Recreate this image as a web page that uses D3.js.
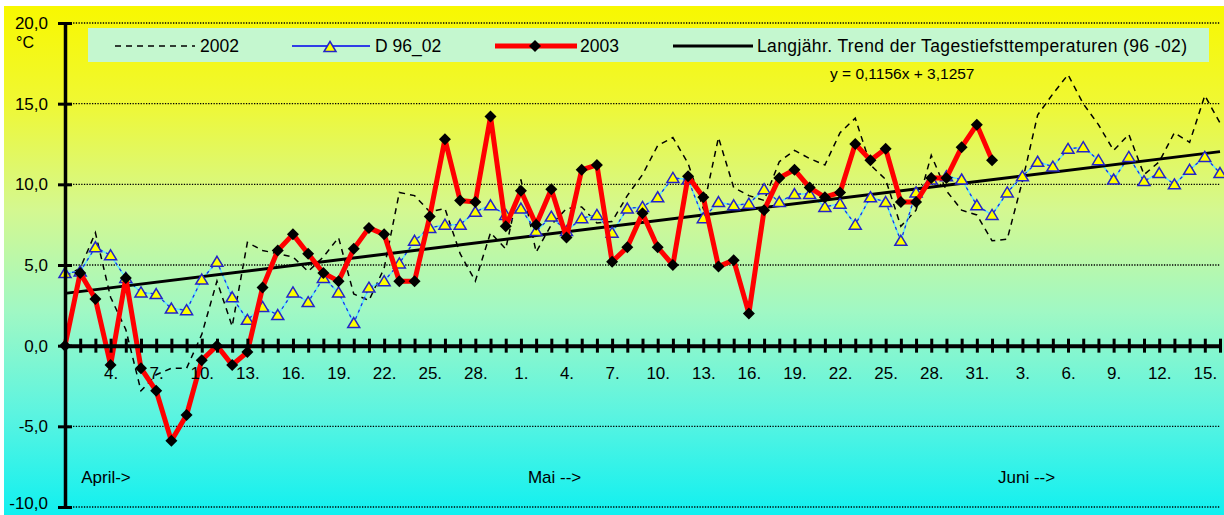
<!DOCTYPE html>
<html><head><meta charset="utf-8">
<script src="https://cdn.jsdelivr.net/npm/d3@7"></script>
<style>
html,body{margin:0;padding:0;background:#fff;}
svg{display:block;font-family:"Liberation Sans",Arial,sans-serif;}
</style></head><body>
<svg id="c" width="1224" height="515"></svg>
<script>
// ---------- data ----------
const categories = [
 "1.4.","2.4.","3.4.","4.4.","5.4.","6.4.","7.4.","8.4.","9.4.","10.4.","11.4.","12.4.","13.4.","14.4.","15.4.",
 "16.4.","17.4.","18.4.","19.4.","20.4.","21.4.","22.4.","23.4.","24.4.","25.4.","26.4.","27.4.","28.4.","29.4.","30.4.",
 "1.5.","2.5.","3.5.","4.5.","5.5.","6.5.","7.5.","8.5.","9.5.","10.5.","11.5.","12.5.","13.5.","14.5.","15.5.","16.5.",
 "17.5.","18.5.","19.5.","20.5.","21.5.","22.5.","23.5.","24.5.","25.5.","26.5.","27.5.","28.5.","29.5.","30.5.","31.5.",
 "1.6.","2.6.","3.6.","4.6.","5.6.","6.6.","7.6.","8.6.","9.6.","10.6.","11.6.","12.6.","13.6.","14.6.","15.6.","16.6."
];
const series2002 = [
 4.3, 4.8, 7.0, 3.0, 1.0, -2.8, -1.8, -1.4, -1.4, 0.7,
 4.0, 1.2, 6.4, 5.9, 5.7, 5.5, 4.6, 5.5, 6.7, 3.2,
 2.8, 4.8, 9.5, 9.3, 8.3, 8.5, 5.7, 4.0, 7.0, 6.0,
 10.3, 5.8, 7.5, 8.5, 8.6, 7.6, 7.7, 9.3, 10.6, 12.4,
 12.9, 11.3, 8.5, 12.9, 9.8, 9.3, 9.0, 11.4, 12.1, 11.6,
 11.2, 13.2, 14.1, 11.2, 10.3, 7.4, 8.4, 11.8, 9.6, 8.4,
 8.1, 6.5, 6.6, 10.2, 14.3, 15.6, 16.8, 15.0, 13.7, 12.1,
 13.1, 10.6, 11.4, 13.2, 12.6, 15.5, 13.8
];
const seriesD9602 = [
 4.5, 4.6, 6.1, 5.6, 4.2, 3.3, 3.2, 2.3, 2.2, 4.1,
 5.2, 3.0, 1.6, 2.4, 1.9, 3.3, 2.7, 4.2, 3.3, 1.4,
 3.6, 4.0, 5.1, 6.5, 7.3, 7.5, 7.5, 8.3, 8.7, 8.1,
 8.5, 7.1, 8.0, 7.1, 7.9, 8.1, 7.0, 8.5, 8.6, 9.2,
 10.4, 10.3, 7.9, 8.9, 8.7, 8.8, 9.7, 8.9, 9.4, 9.4,
 8.6, 8.8, 7.5, 9.2, 8.9, 6.5, 9.5, 10.3, 10.5, 10.3,
 8.7, 8.1, 9.5, 10.5, 11.4, 11.1, 12.2, 12.3, 11.5, 10.3,
 11.7, 10.2, 10.7, 10.0, 10.9, 11.7, 10.7
];
const series2003 = [
 0.0, 4.5, 2.9, -1.2, 4.2, -1.4, -2.8, -5.9, -4.3, -0.9,
 0.0, -1.2, -0.4, 3.6, 5.9, 6.9, 5.7, 4.5, 4.0, 6.0,
 7.3, 6.9, 4.0, 4.0, 8.0, 12.8, 9.0, 8.9, 14.2, 7.4,
 9.6, 7.5, 9.7, 6.7, 10.9, 11.2, 5.2, 6.1, 8.2, 6.1,
 5.0, 10.5, 9.2, 4.9, 5.3, 2.0, 8.4, 10.4, 10.9, 9.8,
 9.2, 9.5, 12.5, 11.5, 12.2, 8.9, 8.9, 10.4, 10.4, 12.3,
 13.7, 11.5
];
const trendSlope = 0.1156;
const trendIntercept = 3.1257;
const equationText = "y = 0,1156x + 3,1257";
const yTicks = [20, 15, 10, 5, 0, -5, -10];
const yUnit = "°C";
const xTickCategories = [
 "4.4.","7.4.","10.4.","13.4.","16.4.","19.4.","22.4.","25.4.","28.4.",
 "1.5.","4.5.","7.5.","10.5.","13.5.","16.5.","19.5.","22.5.","25.5.","28.5.","31.5.",
 "3.6.","6.6.","9.6.","12.6.","15.6."
];
const monthLabels = ["April->", "Mai -->", "Juni -->"];
const monthCategories = ["2.4.", "1.5.", "1.6."];
const legendNames = ["2002", "D 96_02", "2003", "Langjähr. Trend der Tagestiefsttemperaturen (96 -02)"];

// ---------- layout ----------
const svg = d3.select("#c");
const W = 1224, H = 515;
const x = d3.scalePoint().domain(categories).range([65, 1220]).padding(0);
const y = d3.scaleLinear().domain([-10, 20]).range([507, 23]);

const defs = svg.append("defs");
const grad = defs.append("linearGradient").attr("id","bg").attr("x1",0).attr("y1",0).attr("x2",0).attr("y2",1);
[[0,"#f8f800"],[0.18,"#f0f830"],[0.4,"#d4f890"],[0.6,"#a0f8c4"],[0.8,"#5cf4e0"],[1,"#10f0f0"]]
 .forEach(([o,c]) => grad.append("stop").attr("offset",o).attr("stop-color",c));

svg.append("rect").attr("width",W).attr("height",H).attr("fill","#fff");
svg.append("rect").attr("x",4).attr("y",6).attr("width",W-4).attr("height",H-6).attr("fill","url(#bg)");

// gridlines
svg.append("g").selectAll("line").data(yTicks).join("line")
  .attr("x1", x.range()[0]).attr("x2", x.range()[1])
  .attr("y1", d => y(d)).attr("y2", d => y(d))
  .attr("stroke","#000").attr("stroke-width",1.4).attr("stroke-dasharray","1.3,1.4");

// legend box
const lg = svg.append("g");
lg.append("rect").attr("x",88).attr("y",28).attr("width",1121).attr("height",34).attr("fill","#c4f7cf");
const ly = 46;
// 2002
lg.append("line").attr("x1",115).attr("x2",195).attr("y1",ly).attr("y2",ly)
  .attr("stroke","#000").attr("stroke-width",1.5).attr("stroke-dasharray","6,5");
lg.append("text").attr("x",200).attr("y",ly+6).attr("font-size",17.5).text(legendNames[0]);
// D 96_02
lg.append("line").attr("x1",292).attr("x2",370).attr("y1",ly).attr("y2",ly)
  .attr("stroke","#0000ee").attr("stroke-width",1.5);
const triPath = "M0,-5.5L6,4.5L-6,4.5Z";
lg.append("path").attr("d",triPath).attr("transform",`translate(330,${ly+1})`)
  .attr("fill","#ffff00").attr("stroke","#2424c8").attr("stroke-width",1.5);
lg.append("text").attr("x",375).attr("y",ly+6).attr("font-size",17.5).text(legendNames[1]);
// 2003
lg.append("line").attr("x1",495).attr("x2",577).attr("y1",ly).attr("y2",ly)
  .attr("stroke","#ff0000").attr("stroke-width",5);
const diaPath = "M0,-6L6,0L0,6L-6,0Z";
lg.append("path").attr("d",diaPath).attr("transform",`translate(535,${ly})`).attr("fill","#000");
lg.append("text").attr("x",580).attr("y",ly+6).attr("font-size",17.5).text(legendNames[2]);
// trend
lg.append("line").attr("x1",673).attr("x2",753).attr("y1",ly).attr("y2",ly)
  .attr("stroke","#000").attr("stroke-width",3);
lg.append("text").attr("x",757).attr("y",ly+6).attr("font-size",17.5)
  .attr("textLength",430).attr("lengthAdjust","spacing").text(legendNames[3]);

// equation
svg.append("text").attr("x",830).attr("y",79).attr("font-size",15.5).text(equationText);

// series lines
const line = vals => d3.line().x((v,i) => x(categories[i])).y(v => y(v))(vals);

// 2002 dashed
svg.append("path").attr("d", line(series2002)).attr("fill","none")
  .attr("stroke","#000").attr("stroke-width",1.5).attr("stroke-dasharray","6,5");

// D 96_02
svg.append("path").attr("d", line(seriesD9602)).attr("fill","none")
  .attr("stroke","#5ee6ff").attr("stroke-width",1.5);
svg.append("path").attr("d", line(seriesD9602)).attr("fill","none")
  .attr("stroke","#2030e0").attr("stroke-width",1.3).attr("stroke-dasharray","3,4");

// trend line
const tx = [categories[0], categories[categories.length-1]];
svg.append("path").attr("d", d3.line()([
   [x(tx[0]), y(trendSlope*1 + trendIntercept)],
   [x(tx[1]), y(trendSlope*categories.length + trendIntercept)]
 ])).attr("stroke","#000").attr("stroke-width",3).attr("fill","none");

// triangles
svg.append("g").selectAll("path").data(seriesD9602).join("path")
  .attr("d", triPath)
  .attr("transform",(v,i) => `translate(${x(categories[i])},${y(v)})`)
  .attr("fill","#ffff00").attr("stroke","#2424c8").attr("stroke-width",1.5);

// 2003
svg.append("path").attr("d", line(series2003)).attr("fill","none")
  .attr("stroke","#ff0000").attr("stroke-width",5).attr("stroke-linejoin","round");
svg.append("g").selectAll("path").data(series2003).join("path")
  .attr("d", diaPath)
  .attr("transform",(v,i) => `translate(${x(categories[i])},${y(v)})`)
  .attr("fill","#000");

// y axis
const fmt = d => (d < 0 ? "-" : "") + Math.abs(d).toFixed(1).replace(".", ",");
const yAxis = svg.append("g").attr("transform",`translate(${x.range()[0]},0)`)
  .call(d3.axisLeft(y).tickValues(yTicks).tickFormat(fmt).tickSizeInner(7).tickSizeOuter(0).tickPadding(10));
yAxis.select(".domain").attr("stroke","#000").attr("stroke-width",3.5);
yAxis.selectAll(".tick line").attr("x1",7).attr("x2",-7).attr("stroke","#000").attr("stroke-width",3);
yAxis.selectAll(".tick text").attr("font-size",17).attr("fill","#000")
  .attr("font-family","Liberation Sans, Arial, sans-serif")
  .attr("dy", d => d === -10 ? "0.1em" : "0.32em");
svg.append("text").attr("x",16).attr("y",48).attr("font-size",16).text(yUnit);

// x axis at 0
const xAxis = svg.append("g").attr("transform",`translate(0,${y(0)})`)
  .call(d3.axisBottom(x).tickValues(categories)
    .tickFormat(d => xTickCategories.includes(d) ? d.split(".")[0] + "." : "")
    .tickSizeInner(7).tickSizeOuter(0).tickPadding(14));
xAxis.select(".domain").attr("stroke","#000").attr("stroke-width",4);
xAxis.selectAll(".tick line").attr("y1",-7).attr("stroke","#000").attr("stroke-width",3);
xAxis.selectAll(".tick text").attr("font-size",17).attr("fill","#000")
  .attr("font-family","Liberation Sans, Arial, sans-serif");

// month labels
const monthOffsets = [1, 7, 6];
svg.append("g").selectAll("text").data(monthLabels).join("text")
  .attr("x",(d,i) => x(monthCategories[i]) + monthOffsets[i])
  .attr("y",483).attr("font-size",17).text(d => d);
</script>
</body></html>
